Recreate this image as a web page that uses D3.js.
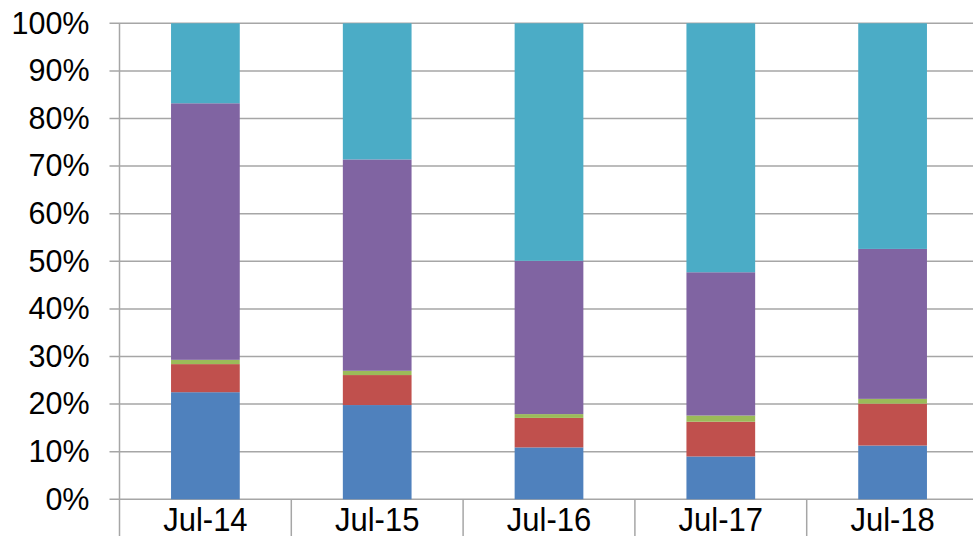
<!DOCTYPE html>
<html>
<head>
<meta charset="utf-8">
<script src="https://cdn.jsdelivr.net/npm/d3@7"></script>
<style>
  body { margin: 0; background: #fff; }
  svg { display: block; font-family: "Liberation Sans", Arial, sans-serif; }
</style>
</head>
<body>
<script>
'use strict'
// categories and stacked share of each series (percent)
var categories = ["Jul-14", "Jul-15", "Jul-16", "Jul-17", "Jul-18"];
var seriesKeys = ["s1", "s2", "s3", "s4", "s5"];
var s1 = [22.5, 19.8, 10.9, 9.0, 11.3];
var s2 = [5.9, 6.3, 6.2, 7.3, 8.8];
var s3 = [0.9, 0.9, 0.8, 1.3, 1.0];
var s4 = [53.9, 44.4, 32.2, 30.1, 31.5];
var s5 = [16.8, 28.6, 49.9, 52.3, 47.4];
var colors = ["#4F81BD", "#C0504D", "#9BBB59", "#8064A2", "#4BACC6"];
var yTicks = [0, 0.1, 0.2, 0.3, 0.4, 0.5, 0.6, 0.7, 0.8, 0.9, 1];

var width = 973, height = 536;
var plotLeft = 119.5, plotRight = 978.5, plotTop = 23.3, plotBottom = 499.3;

var rows = categories.map(function(c, i){
  return {cat: c, s1: s1[i], s2: s2[i], s3: s3[i], s4: s4[i], s5: s5[i]};
});

var stack = d3.stack().keys(seriesKeys).offset(d3.stackOffsetExpand);
var layers = stack(rows);

var x = d3.scaleBand()
          .domain(categories)
          .range([plotLeft, plotRight])
          .paddingInner(0.6)
          .paddingOuter(0.3);
var y = d3.scaleLinear().domain([0, 1]).range([plotBottom, plotTop]);

var svg = d3.select("body")
            .append("svg")
            .attr("width", width)
            .attr("height", height);

// gridlines
svg.append("g")
   .selectAll("line")
   .data(yTicks)
   .enter()
   .append("line")
   .attr("x1", plotLeft - 10)
   .attr("x2", width)
   .attr("y1", function(d){ return y(d); })
   .attr("y2", function(d){ return y(d); })
   .attr("stroke", "#A6A6A6")
   .attr("stroke-width", 1.5);

// bars
svg.append("g")
   .selectAll("g")
   .data(layers)
   .enter()
   .append("g")
   .attr("fill", function(d, i){ return colors[i]; })
   .selectAll("rect")
   .data(function(d){ return d; })
   .enter()
   .append("rect")
   .attr("x", function(d){ return x(d.data.cat); })
   .attr("width", x.bandwidth())
   .attr("y", function(d){ return y(d[1]); })
   .attr("height", function(d){ return y(d[0]) - y(d[1]); });

// y axis
var yAxis = d3.axisLeft(y)
              .tickValues(yTicks)
              .tickFormat(d3.format(".0%"))
              .tickSize(0)
              .tickPadding(30);
var gy = svg.append("g")
            .attr("transform", "translate(" + plotLeft + ",0)")
            .call(yAxis);
gy.select(".domain").remove();
gy.selectAll("text")
  .attr("font-size", "30.5px")
  .attr("font-family", "Liberation Sans, Arial, sans-serif")
  .attr("fill", "#000");

svg.append("line")
   .attr("x1", plotLeft).attr("x2", plotLeft)
   .attr("y1", plotTop).attr("y2", height)
   .attr("stroke", "#A6A6A6")
   .attr("stroke-width", 1.5);

// category separators
var step = x.step();
svg.append("g")
   .selectAll("line")
   .data(categories.slice(1))
   .enter()
   .append("line")
   .attr("x1", function(d){ return x(d) - step * 0.3; })
   .attr("x2", function(d){ return x(d) - step * 0.3; })
   .attr("y1", plotBottom)
   .attr("y2", height)
   .attr("stroke", "#A6A6A6")
   .attr("stroke-width", 1.5);

// category labels (slightly taller than wide, as in the source)
svg.append("g")
   .selectAll("text")
   .data(categories)
   .enter()
   .append("text")
   .attr("transform", function(d){
     return "translate(" + (x(d) + x.bandwidth() / 2) + ",531) scale(1,1.08)";
   })
   .attr("text-anchor", "middle")
   .attr("font-size", "31px")
   .attr("fill", "#000")
   .text(function(d){ return d; });
</script>
</body>
</html>
